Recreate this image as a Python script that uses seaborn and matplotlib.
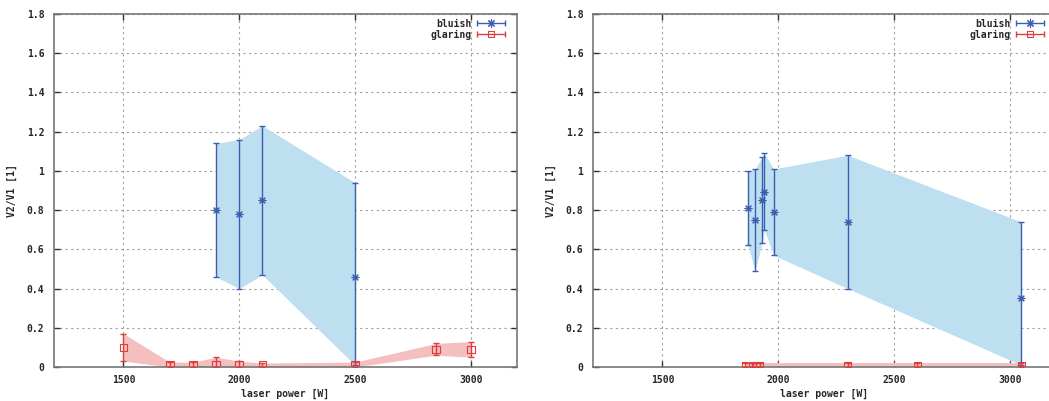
import matplotlib
matplotlib.use("Agg")
import matplotlib.pyplot as plt
import numpy as np
import pandas as pd
import seaborn as sns
from matplotlib.legend_handler import HandlerBase
from matplotlib.lines import Line2D

# left panel
left_blue_x = [1900, 2000, 2100, 2500]
left_blue_y = [0.80, 0.78, 0.85, 0.46]
left_blue_lo = [0.46, 0.40, 0.47, 0.01]
left_blue_hi = [1.14, 1.16, 1.23, 0.94]

left_red_x = [1500, 1700, 1800, 1900, 2000, 2100, 2500, 2850, 3000]
left_red_y = [0.10, 0.01, 0.01, 0.01, 0.01, 0.01, 0.01, 0.09, 0.09]
left_red_lo = [0.03, 0.00, 0.00, 0.00, 0.00, 0.00, 0.00, 0.06, 0.05]
left_red_hi = [0.17, 0.025, 0.025, 0.05, 0.03, 0.02, 0.025, 0.12, 0.13]

# right panel
right_blue_x = [1870, 1900, 1930, 1940, 1980, 2300, 3050]
right_blue_y = [0.81, 0.75, 0.85, 0.89, 0.79, 0.74, 0.35]
right_blue_lo = [0.62, 0.49, 0.63, 0.70, 0.57, 0.40, 0.01]
right_blue_hi = [1.00, 1.01, 1.07, 1.09, 1.01, 1.08, 0.74]

right_red_x = [1858, 1887, 1905, 1920, 2300, 2600, 3050]
right_red_y = [0.01, 0.01, 0.01, 0.01, 0.01, 0.01, 0.01]
right_red_lo = [0.0, 0.0, 0.0, 0.0, 0.0, 0.0, 0.0]
right_red_hi = [0.02, 0.02, 0.02, 0.02, 0.02, 0.02, 0.02]

y_ticks = [0, 0.2, 0.4, 0.6, 0.8, 1.0, 1.2, 1.4, 1.6, 1.8]
y_tick_labels = ['0', '0.2', '0.4', '0.6', '0.8', '1', '1.2', '1.4', '1.6', '1.8']
x_ticks = [1500, 2000, 2500, 3000]
x_tick_labels = ['1500', '2000', '2500', '3000']

BLUE = '#3a5fae'
RED = '#e03c3c'
BLUE_FILL = '#bddff0'
RED_FILL = '#f3bfbf'

sns.set_theme(style='ticks')
plt.rcParams['font.family'] = ['DejaVu Sans Mono']
plt.rcParams['font.weight'] = 'bold'
plt.rcParams['font.size'] = 7

ASTER = (8, 2, 0)


class ErrHandler(HandlerBase):
    def create_artists(self, legend, orig_handle, xdescent, ydescent,
                       width, height, fontsize, trans):
        y = height / 2 - ydescent
        x0, x1 = -xdescent, width - xdescent
        col = orig_handle.get_color()
        line = Line2D([x0, x1], [y, y], color=col, lw=1)
        caps = Line2D([x0, x1], [y, y], ls='none', marker='|', ms=5, mew=1, color=col)
        mk = Line2D([(x0 + x1) / 2], [y], ls='none', marker=orig_handle.get_marker(),
                    ms=orig_handle.get_markersize(), mew=0.8, color=col,
                    mfc=orig_handle.get_markerfacecolor())
        for a in (line, caps, mk):
            a.set_transform(trans)
        return [line, caps, mk]


def draw_series(ax, x, y, lo, hi, color, fill, marker, mfc, size):
    df = pd.DataFrame({'x': x, 'y': y, 'lo': lo, 'hi': hi})
    ax.fill_between(df['x'], df['lo'], df['hi'], color=fill, lw=0, zorder=1)
    ax.errorbar(df['x'], df['y'], yerr=[df['y'] - df['lo'], df['hi'] - df['y']],
                fmt='none', ecolor=color, elinewidth=1, capsize=2, capthick=1, zorder=3)
    sns.scatterplot(data=df, x='x', y='y', ax=ax, marker=marker, s=size,
                    facecolor=mfc, edgecolor=color, color=color, linewidth=0.8, zorder=4)


def style_axes(ax):
    ax.set_xlim(1200, 3200)
    ax.set_ylim(0, 1.8)
    ax.set_xticks(x_ticks)
    ax.set_xticklabels(x_tick_labels)
    ax.set_yticks(y_ticks)
    ax.set_yticklabels(y_tick_labels)
    ax.tick_params(direction='in', length=4, width=1, color='#333333',
                   top=True, right=True, labelsize=7)
    ax.tick_params(axis='y', pad=7)
    ax.tick_params(axis='x', pad=6)
    ax.grid(True, color='#a0a0a0', linestyle=(0, (2, 3)), linewidth=0.8)
    for s in ax.spines.values():
        s.set_color('#777777')
        s.set_linewidth(1.2)
    ax.set_xlabel('laser power [W]', fontsize=7, fontweight='bold', labelpad=2.5)
    ax.set_ylabel('V2/V1 [1]', fontsize=7, fontweight='bold', labelpad=7)
    handles = [Line2D([], [], color=BLUE, marker=ASTER, ms=6),
               Line2D([], [], color=RED, marker='s', ms=5, mfc='none')]
    ax.legend(handles, ['bluish', 'glaring'], loc='upper right', frameon=False,
              bbox_to_anchor=(0.982, 0.998), borderaxespad=0,
              markerfirst=False, handlelength=2.9, handletextpad=0.5,
              labelspacing=0.12, fontsize=7,
              handler_map={Line2D: ErrHandler()})


fig = plt.figure(figsize=(10.49, 4.01), dpi=100)
ax1 = fig.add_axes([0.0515, 0.0848, 0.4414, 0.8803])
ax2 = fig.add_axes([0.5653, 0.0848, 0.4414, 0.8803])

draw_series(ax1, left_blue_x, left_blue_y, left_blue_lo, left_blue_hi, BLUE, BLUE_FILL, ASTER, BLUE, 25)
draw_series(ax1, left_red_x, left_red_y, left_red_lo, left_red_hi, RED, RED_FILL, 's', 'none', 30)
draw_series(ax2, right_blue_x, right_blue_y, right_blue_lo, right_blue_hi, BLUE, BLUE_FILL, ASTER, BLUE, 25)
draw_series(ax2, right_red_x, right_red_y, right_red_lo, right_red_hi, RED, RED_FILL, 's', 'none', 25)

for ax in (ax1, ax2):
    style_axes(ax)

fig.savefig('out.png', dpi=100)
